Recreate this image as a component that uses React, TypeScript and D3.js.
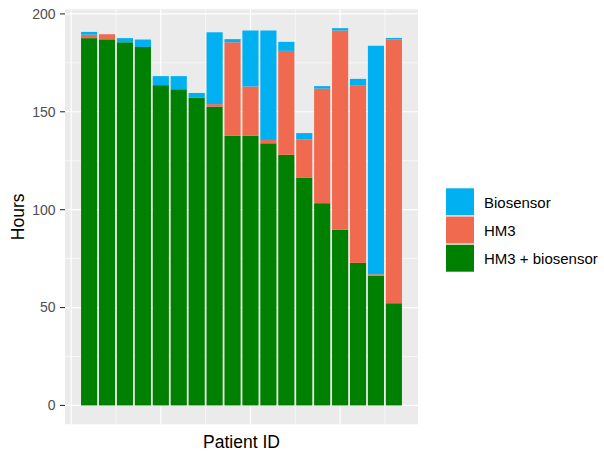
import React from "react";
import * as d3 from "d3";

// values (hours), one entry per patient
const patients = [1, 2, 3, 4, 5, 6, 7, 8, 9, 10, 11, 12, 13, 14, 15, 16, 17, 18];
const hm3Biosensor = [187.6, 187.0, 185.5, 183.1, 163.6, 161.5, 157.1, 152.6, 137.7, 137.7, 133.9, 128.0, 116.4, 103.3, 89.7, 72.8, 66.3, 52.2];
const hm3 = [1.8, 2.6, 0, 0, 0, 0, 0, 1.3, 47.8, 25.2, 1.7, 53.1, 19.4, 58.5, 101.8, 90.8, 0.7, 134.8];
const biosensor = [1.4, 0, 2.1, 3.8, 4.6, 6.7, 2.5, 36.7, 1.6, 28.6, 55.9, 4.6, 3.3, 1.3, 1.2, 3.2, 116.7, 0.7];

const seriesKeys = ["HM3 + biosensor", "HM3", "Biosensor"];
const legendKeys = ["Biosensor", "HM3", "HM3 + biosensor"];
const colors: Record<string, string> = {
  Biosensor: "#00B0F0",
  HM3: "#F06A50",
  "HM3 + biosensor": "#008000",
};

const yTicks = [0, 50, 100, 150, 200];
const yMinor = [25, 75, 125, 175];
const xMajor = [0, 5, 10, 15];
const xMinor = [2.5, 7.5, 12.5, 17.5];

const W = 604;
const H = 452;
const panel = { left: 65, right: 418, top: 9.3, bottom: 424.3 };

export default function App() {
  const rows = patients.map((p, i) => ({
    id: p,
    "HM3 + biosensor": hm3Biosensor[i],
    HM3: hm3[i],
    Biosensor: biosensor[i],
  }));
  const stacked = d3.stack<any>().keys(seriesKeys)(rows);

  const totals = rows.map((r) => r["HM3 + biosensor"] + r.HM3 + r.Biosensor);
  const yMax = d3.max(totals)!;
  const x = d3
    .scaleLinear()
    .domain([0.55 - 0.05 * 17.9, 18.45 + 0.05 * 17.9])
    .range([panel.left, panel.right]);
  const y = d3
    .scaleLinear()
    .domain([-0.05 * yMax, 1.05 * yMax])
    .range([panel.bottom, panel.top]);
  const barW = x(0.9) - x(0);

  const font = "Liberation Sans, Arial, sans-serif";

  return (
    <svg
      width={W}
      height={H}
      style={{ position: "absolute", left: 0, top: 0, background: "#fff" }}
      fontFamily={font}
    >
      <rect
        x={panel.left}
        y={panel.top}
        width={panel.right - panel.left}
        height={panel.bottom - panel.top}
        fill="#EBEBEB"
      />
      {yMinor.map((t) => (
        <line key={"ym" + t} x1={panel.left} x2={panel.right} y1={y(t)} y2={y(t)} stroke="#fff" strokeWidth={0.6} />
      ))}
      {xMinor.map((t) => (
        <line key={"xm" + t} x1={x(t)} x2={x(t)} y1={panel.top} y2={panel.bottom} stroke="#fff" strokeWidth={0.6} />
      ))}
      {yTicks.map((t) => (
        <line key={"yM" + t} x1={panel.left} x2={panel.right} y1={y(t)} y2={y(t)} stroke="#fff" strokeWidth={1.2} />
      ))}
      {xMajor.map((t) => (
        <line key={"xM" + t} x1={x(t)} x2={x(t)} y1={panel.top} y2={panel.bottom} stroke="#fff" strokeWidth={1.2} />
      ))}

      {stacked.map((s) => (
        <g key={s.key} fill={colors[s.key]}>
          {s.map((d: any, i: number) => (
            <rect
              key={i}
              x={x(d.data.id) - barW / 2}
              y={y(d[1])}
              width={barW}
              height={Math.max(0, y(d[0]) - y(d[1]))}
            />
          ))}
        </g>
      ))}

      {yTicks.map((t) => (
        <g key={"yt" + t}>
          <line x1={panel.left - 5} x2={panel.left} y1={y(t)} y2={y(t)} stroke="#333" strokeWidth={1.1} />
          <text x={panel.left - 9.5} y={y(t)} dy="0.35em" textAnchor="end" fontSize={14} fill="#4D4D4D">
            {t}
          </text>
        </g>
      ))}

      <text
        transform={`translate(24,${(panel.top + panel.bottom) / 2}) rotate(-90)`}
        textAnchor="middle"
        fontSize={17.5}
        fill="#000"
      >
        Hours
      </text>
      <text x={(panel.left + panel.right) / 2} y={448} textAnchor="middle" fontSize={17.5} fill="#000">
        Patient ID
      </text>

      {legendKeys.map((k, i) => (
        <g key={k} transform={`translate(446,${188.3 + i * 28.2})`}>
          <rect width={28} height={27} fill={colors[k]} />
          <text x={38} y={14.5} dy="0.35em" fontSize={15} fill="#000">
            {k}
          </text>
        </g>
      ))}
    </svg>
  );
}
